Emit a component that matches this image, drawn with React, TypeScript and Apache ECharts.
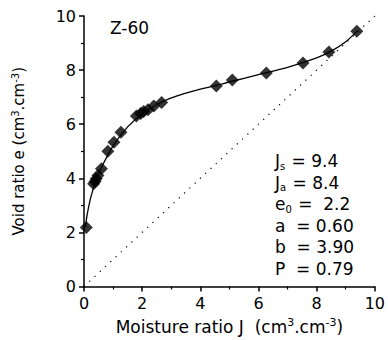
import React, { useEffect, useRef } from "react";
import * as echarts from "echarts";

const moistureJ = [0.08, 0.33, 0.38, 0.42, 0.48, 0.6, 0.82, 1.03, 1.27, 1.8, 1.95, 2.05, 2.2, 2.4, 2.67, 4.55, 5.1, 6.27, 7.53, 8.42, 9.38];
const voidE = [2.18, 3.8, 3.88, 3.98, 4.1, 4.35, 5.0, 5.33, 5.7, 6.3, 6.4, 6.47, 6.53, 6.67, 6.8, 7.41, 7.63, 7.89, 8.26, 8.67, 9.44];

const fitJ = [0.05, 0.1, 0.2, 0.3, 0.4, 0.6, 1.0, 1.5, 2.0, 2.5, 3.0, 3.5, 4.0, 4.5, 5.0, 6.0, 7.0, 8.0, 8.5, 9.0, 9.4];
const fitE = [2.2, 2.6, 3.15, 3.55, 3.9, 4.4, 5.2, 5.9, 6.38, 6.72, 6.97, 7.15, 7.3, 7.42, 7.56, 7.83, 8.1, 8.45, 8.7, 9.05, 9.45];

const oneToOne = [[0, 0], [10, 10]];

const paramLines = [
  "{t|J}{sub|s}{t| = 9.4}",
  "{t|J}{sub|a}{t| = 8.4}",
  "{t|e}{sub|0}{t| =  2.2}",
  "{t|a  = 0.60}",
  "{t|b  = 3.90}",
  "{t|P  = 0.79}",
];

const FONT = "DejaVu Sans, sans-serif";

export default function App() {
  const ref = useRef<HTMLDivElement>(null);
  useEffect(() => {
    if (!ref.current) return;
    const chart = echarts.init(ref.current, null, { renderer: "svg" });
    const rich17 = {
      t: { fontSize: 17, color: "#000", fontFamily: FONT },
      sub: { fontSize: 10, color: "#000", fontFamily: FONT, padding: [10, 1, 0, 0] },
      sup: { fontSize: 11, color: "#000", fontFamily: FONT, padding: [0, 0, 9, 0] },
    };
    const rich15 = {
      t: { fontSize: 15, color: "#000", fontFamily: FONT },
      sup: { fontSize: 10, color: "#000", fontFamily: FONT, padding: [0, 0, 8, 0] },
    };
    chart.setOption({
      animation: false,
      backgroundColor: "#fff",
      grid: { left: 84, right: 11, top: 16, bottom: 52, containLabel: false },
      xAxis: {
        type: "value",
        min: 0,
        max: 10,
        interval: 2,
        name: "{t|Moisture ratio J  (cm}{sup|3}{t|.cm}{sup|-3}{t|)}",
        nameLocation: "middle",
        nameGap: 30,
        nameTextStyle: { rich: rich17 },
        axisLine: { show: true, lineStyle: { color: "#000", width: 1.5 } },
        axisTick: { show: true, inside: false, length: 5, lineStyle: { color: "#000", width: 1.5 } },
        minorTick: { show: true, splitNumber: 2, length: 3, lineStyle: { color: "#000", width: 1.2 } },
        axisLabel: { color: "#000", fontSize: 16, fontFamily: FONT, margin: 9 },
        splitLine: { show: false },
      },
      yAxis: {
        type: "value",
        min: 0,
        max: 10,
        interval: 2,
        name: "{t|Void ratio e (cm}{sup|3}{t|.cm}{sup|-3}{t|)}",
        nameLocation: "middle",
        nameGap: 56,
        nameTextStyle: { rich: rich15 },
        axisLine: { show: true, lineStyle: { color: "#000", width: 1.5 } },
        axisTick: { show: true, inside: false, length: 5, lineStyle: { color: "#000", width: 1.5 } },
        minorTick: { show: true, splitNumber: 2, length: 3, lineStyle: { color: "#000", width: 1.2 } },
        axisLabel: { color: "#000", fontSize: 16, fontFamily: FONT, margin: 8 },
        splitLine: { show: false },
      },
      series: [
        {
          type: "line",
          data: oneToOne,
          symbol: "none",
          lineStyle: { color: "#000", width: 1.2, type: [1.2, 6] },
          silent: true,
        },
        {
          type: "line",
          data: fitJ.map((j, i) => [j, fitE[i]]),
          symbol: "none",
          smooth: 0.3,
          lineStyle: { color: "#000", width: 1.3 },
          silent: true,
        },
        {
          type: "scatter",
          data: moistureJ.map((j, i) => [j, voidE[i]]),
          symbol: "diamond",
          symbolSize: 13,
          itemStyle: { color: "#000" },
        },
      ],
      graphic: [
        {
          type: "text",
          x: 110,
          y: 28,
          style: { text: "Z-60", fontSize: 17, fill: "#000", fontFamily: FONT, verticalAlign: "middle" },
        },
        ...paramLines.map((line, i) => ({
          type: "text",
          x: 275,
          y: 161 + i * 21.6,
          style: { text: line, rich: rich17, fill: "#000", verticalAlign: "middle" },
        })),
      ],
    });
    return () => chart.dispose();
  }, []);
  return <div ref={ref} style={{ position: "fixed", left: 0, top: 0, width: 388, height: 340 }} />;
}
